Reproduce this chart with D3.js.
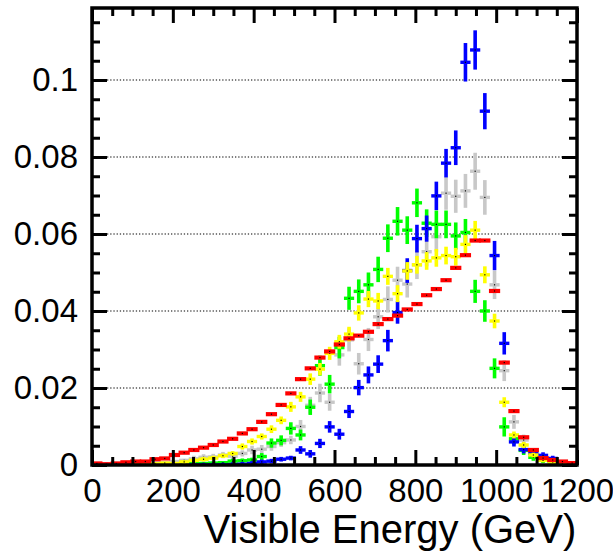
<!DOCTYPE html>
<html><head><meta charset="utf-8">
<script src="https://cdn.jsdelivr.net/npm/d3@7"></script>
<style>body{margin:0;background:#fff}svg{display:block}</style>
</head><body><div id="chart"></div>
<script>
const energyBins = [12,36,60,84,108,132,156,180,204,228,252,276,300,324,348,372,396,420,444,468,492,516,540,564,588,612,636,660,684,708,732,756,780,804,828,852,876,900,924,948,972,996,1020,1044,1068,1092,1116,1140,1164,1188];
const xTicks = [0,200,400,600,800,1000,1200];
const yTicks = [0,0.02,0.04,0.06,0.08,0.1];
const yTickLabels = ["0","0.02","0.04","0.06","0.08","0.1"];

const grayVals = [0,0,0,0,0.0001,0.0003,0.0006,0.0006,0.0009,0.0012,0.0016,0.0020,0.0021,0.0026,0.0023,0.0030,0.0039,0.0041,0.0048,0.0058,0.0065,0.0100,0.0155,0.0187,0.0163,0.0286,0.0325,0.0263,0.0326,0.0385,0.0430,0.0480,0.0470,0.0520,0.0554,0.0593,0.0706,0.0698,0.0712,0.0763,0.0695,0.0468,0.0245,0.0112,0.0065,0.0030,0.0013,0.0010,0.0008,0.0006];
const grayErr = [0.0004,0.0004,0.0004,0.0004,0.0004,0.0004,0.0004,0.0004,0.0004,0.0004,0.0008,0.0008,0.0008,0.0008,0.0008,0.0008,0.0011,0.0011,0.0011,0.0011,0.0011,0.0017,0.0022,0.0024,0.0022,0.0028,0.0030,0.0028,0.0030,0.0032,0.0034,0.0035,0.0035,0.0037,0.0038,0.0039,0.0043,0.0043,0.0044,0.0048,0.0045,0.0037,0.0027,0.0018,0.0014,0.0010,0.0007,0.0006,0.0005,0.0004];

const greenVals = [0,0,0,0,0,0,0.0001,0.0001,0.0002,0.0003,0.0004,0.0004,0.0005,0.0006,0.0010,0.0011,0.0013,0.0022,0.0057,0.0064,0.0095,0.0078,0.0150,0.0258,0.0210,0.0305,0.0433,0.0451,0.0468,0.0508,0.0589,0.0633,0.0610,0.0681,0.0628,0.0625,0.0625,0.0595,0.0604,0.0451,0.0400,0.0251,0.0099,0.0068,0.0038,0.0020,0.0012,0.0008,0.0005,0.0003];
const greenErr = [0.0004,0.0004,0.0004,0.0004,0.0004,0.0004,0.0004,0.0004,0.0004,0.0004,0.0004,0.0004,0.0004,0.0004,0.0006,0.0006,0.0006,0.0009,0.0012,0.0013,0.0016,0.0014,0.0020,0.0026,0.0024,0.0028,0.0030,0.0031,0.0032,0.0033,0.0036,0.0037,0.0036,0.0037,0.0036,0.0036,0.0036,0.0035,0.0035,0.0030,0.0028,0.0026,0.0025,0.0015,0.0012,0.0009,0.0007,0.0006,0.0005,0.0004];

const blueVals = [0,0,0,0,0,0,0,0,0,0,0,0,0,0,0.0001,0.0002,0.0004,0.0008,0.0010,0.0015,0.0018,0.0039,0.0029,0.0056,0.0099,0.0080,0.0139,0.0201,0.0234,0.0262,0.0323,0.0396,0.0505,0.0588,0.0614,0.0699,0.0784,0.0824,0.1046,0.1078,0.0919,0.0544,0.0316,0.0060,0.0040,0.0030,0.0025,0.0017,0.0006,0.0003];
const blueErr = [0.0006,0.0006,0.0006,0.0006,0.0006,0.0006,0.0006,0.0006,0.0006,0.0006,0.0006,0.0006,0.0006,0.0006,0.0006,0.0006,0.0006,0.0006,0.0006,0.0006,0.0006,0.0010,0.0010,0.0012,0.0015,0.0014,0.0017,0.0020,0.0022,0.0023,0.0028,0.0029,0.0032,0.0036,0.0034,0.0037,0.0037,0.0045,0.0050,0.0051,0.0047,0.0038,0.0029,0.0012,0.0010,0.0009,0.0008,0.0007,0.0005,0.0004];

const yellowVals = [0,0,0,0,0.0001,0.0002,0.0003,0.0005,0.0004,0.0008,0.0012,0.0015,0.0018,0.0024,0.0030,0.0048,0.0061,0.0074,0.0093,0.0116,0.0151,0.0177,0.0223,0.0249,0.0290,0.0320,0.0340,0.0395,0.0431,0.0426,0.0490,0.0445,0.0504,0.0520,0.0530,0.0538,0.0544,0.0541,0.0573,0.0610,0.0494,0.0374,0.0163,0.0078,0.0052,0.0026,0.0012,0.0008,0.0004,0.0002];
const yellowErr = [0.0003,0.0003,0.0003,0.0003,0.0003,0.0003,0.0003,0.0003,0.0003,0.0003,0.0006,0.0006,0.0006,0.0006,0.0006,0.0008,0.0008,0.0008,0.0010,0.0010,0.0013,0.0013,0.0015,0.0016,0.0017,0.0018,0.0019,0.0020,0.0021,0.0021,0.0022,0.0022,0.0023,0.0023,0.0023,0.0023,0.0023,0.0023,0.0024,0.0024,0.0022,0.0019,0.0013,0.0009,0.0008,0.0006,0.0004,0.0003,0.0003,0.0002];

const redVals = [0.0004,0.0002,0.0004,0.0007,0.0009,0.0009,0.0015,0.0017,0.0026,0.0032,0.0039,0.0045,0.0052,0.0061,0.0068,0.0082,0.0093,0.0112,0.0132,0.0156,0.0186,0.0223,0.0251,0.0279,0.0295,0.0313,0.0329,0.0336,0.0346,0.0366,0.0379,0.0388,0.0404,0.0418,0.0441,0.0457,0.0480,0.0512,0.0545,0.0583,0.0583,0.0452,0.0266,0.0140,0.0072,0.0039,0.0018,0.0013,0.0009,0.0005];
const redErr = [0.0002,0.0002,0.0002,0.0002,0.0002,0.0002,0.0002,0.0002,0.0002,0.0002,0.0002,0.0002,0.0002,0.0002,0.0002,0.0002,0.0002,0.0002,0.0002,0.0002,0.0003,0.0003,0.0003,0.0003,0.0003,0.0003,0.0003,0.0003,0.0003,0.0003,0.0003,0.0003,0.0003,0.0003,0.0003,0.0003,0.0003,0.0003,0.0003,0.0003,0.0003,0.0003,0.0003,0.0002,0.0002,0.0002,0.0002,0.0002,0.0002,0.0002];

const seriesList = [
  {name:"gray", color:"#c8c8c8", vals:grayVals, err:grayErr},
  {name:"green", color:"#00ff00", vals:greenVals, err:greenErr},
  {name:"blue", color:"#0000ff", vals:blueVals, err:blueErr},
  {name:"yellow", color:"#ffff00", vals:yellowVals, err:yellowErr},
  {name:"red", color:"#ff0000", vals:redVals, err:redErr}
];

const W = 613, H = 553;
const L = 92, R = 577, T = 8, B = 465;
const svg = d3.select("#chart").append("svg").attr("width", W).attr("height", H)
  .style("font-family", "'Liberation Sans', Arial, sans-serif");

const x = d3.scaleLinear().domain([0, 1200]).range([L, R]);
const y = d3.scaleLinear().domain([0, 0.1187]).range([B, T]);
const binW = x(24) - x(0);

// gridlines
svg.append("g").selectAll("line").data(yTicks.filter(d => d > 0)).join("line")
  .attr("x1", L + 15).attr("x2", R - 15)
  .attr("y1", d => y(d)).attr("y2", d => y(d))
  .attr("stroke", "#000").attr("stroke-width", 1.2).attr("stroke-dasharray", "1.3,1.9");

// markers
svg.append("clipPath").attr("id", "pc").append("rect")
  .attr("x", L).attr("y", T).attr("width", R - L).attr("height", B - T);
const gm = svg.append("g").attr("clip-path", "url(#pc)");
seriesList.forEach(s => {
  const g = gm.append("g");
  const pts = energyBins.map((e, i) => ({e, v: s.vals[i], er: s.err[i]}));
  const isRed = s.name === "red";
  const hb = isRed ? 4.2 : 3.4;
  const vw = 3.6;
  const bw = isRed ? binW + 1.5 : binW + 0.5;
  g.selectAll("rect.h").data(pts).join("rect").attr("class", "h")
    .attr("x", d => x(d.e) - bw / 2).attr("width", bw)
    .attr("y", d => y(d.v) - hb / 2).attr("height", hb)
    .attr("fill", s.color);
  if (!isRed) {
    g.selectAll("rect.v").data(pts).join("rect").attr("class", "v")
      .attr("x", d => x(d.e) - vw / 2).attr("width", vw)
      .attr("y", d => y(d.v + d.er)).attr("height", d => Math.max(hb, y(d.v - d.er) - y(d.v + d.er)))
      .attr("fill", s.color);
  }
  g.selectAll("rect.c").data(pts).join("rect").attr("class", "c")
    .attr("x", d => x(d.e) - 0.6).attr("width", 1.2)
    .attr("y", d => y(d.v) - 0.6).attr("height", 1.2)
    .attr("fill", "#000");
});

// axes: major ticks
const tickFont = "33px";
svg.append("g").attr("transform", `translate(0,${B})`)
  .call(d3.axisBottom(x).tickValues(xTicks).tickSize(-15).tickPadding(14).tickFormat(d3.format("d")));
svg.append("g").attr("transform", `translate(0,${T})`)
  .call(d3.axisTop(x).tickValues(xTicks).tickSize(-15).tickFormat(""));
svg.append("g").attr("transform", `translate(${L},0)`)
  .call(d3.axisLeft(y).tickValues(yTicks).tickSize(-15).tickPadding(14).tickFormat((d, i) => yTickLabels[i]));
svg.append("g").attr("transform", `translate(${R},0)`)
  .call(d3.axisRight(y).tickValues(yTicks).tickSize(-15).tickFormat(""));
// minor ticks
const xMinor = [50,100,150,250,300,350,450,500,550,650,700,750,850,900,950,1050,1100,1150];
const yMinor = [0.005,0.01,0.015,0.025,0.03,0.035,0.045,0.05,0.055,0.065,0.07,0.075,0.085,0.09,0.095,0.105,0.11,0.115];
svg.append("g").attr("transform", `translate(0,${B})`).call(d3.axisBottom(x).tickValues(xMinor).tickSize(-8).tickFormat(""));
svg.append("g").attr("transform", `translate(0,${T})`).call(d3.axisTop(x).tickValues(xMinor).tickSize(-8).tickFormat(""));
svg.append("g").attr("transform", `translate(${L},0)`).call(d3.axisLeft(y).tickValues(yMinor).tickSize(-8).tickFormat(""));
svg.append("g").attr("transform", `translate(${R},0)`).call(d3.axisRight(y).tickValues(yMinor).tickSize(-8).tickFormat(""));

svg.selectAll(".domain").remove();
svg.selectAll(".tick line").attr("stroke", "#000").attr("stroke-width", 3);
svg.selectAll(".tick text").attr("font-size", tickFont).attr("fill", "#000")
  .attr("font-family", "'Liberation Sans', Arial, sans-serif");

// frame
svg.append("rect").attr("x", L).attr("y", T).attr("width", R - L).attr("height", B - T)
  .attr("fill", "none").attr("stroke", "#000").attr("stroke-width", 3.5);

// axis title
svg.append("text").attr("x", 390).attr("y", 543).attr("text-anchor", "middle")
  .attr("font-size", "40px").attr("fill", "#000").text("Visible Energy (GeV)");
</script></body></html>
